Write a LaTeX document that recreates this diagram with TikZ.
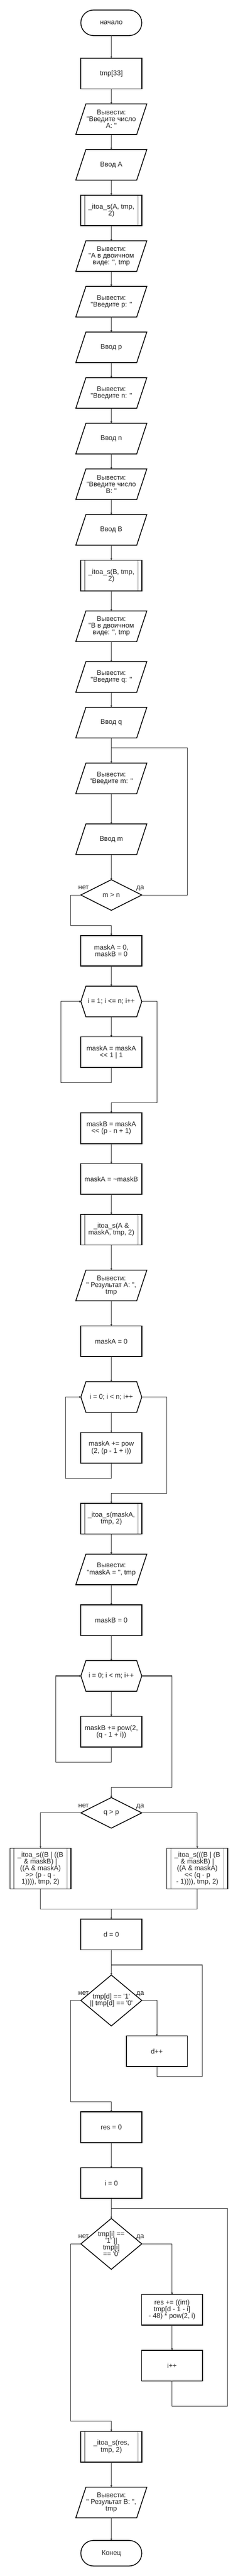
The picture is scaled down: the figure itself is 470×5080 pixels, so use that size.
\documentclass[tikz,border=0pt]{standalone}
\usepackage{fontspec}
\newfontfamily\dfont{Liberation Sans}
\usetikzlibrary{arrows.meta}
\definecolor{lc}{HTML}{333333}
\definecolor{tc}{HTML}{222222}
\definecolor{ic}{HTML}{808080}
\begin{document}
\begin{tikzpicture}[x=1pt,y=-1pt,
  base/.style={rectangle, inner sep=0pt, minimum width=120pt, minimum height=60pt, align=center, font={\dfont\fontsize{13.5}{13.3}\selectfont}, text=tc},
  wide/.style={base, minimum width=140pt},
  tall/.style={base, minimum height=100pt},
  term/.style={base, minimum height=50pt},
  big/.style={base, minimum height=80pt},
  shp/.style={draw=black, line width=1.6pt, line join=miter},
  inl/.style={draw=ic, line width=1.4pt},
  conn/.style={draw=lc, line width=1.1pt},
  arr/.style={conn, -{Triangle[length=3.5pt,width=3.5pt]}},
  lbl/.style={inner sep=0pt, font={\dfont\fontsize{13.5}{13.3}\selectfont}, text=tc}
]
\fill[white] (0,0) rectangle (470,5080);
\useasboundingbox (0,0) rectangle (470,5080);

\node[term] (t1) at (220,45) {начало};
\node[base] (p1) at (220,145) {tmp[33]};
\node[wide] (o1) at (220,235) {Вывести:\\"Введите число\\A: "};
\node[wide] (o2) at (220,325) {Ввод A};
\node[base] (s1) at (220,415) {\_itoa\_s(A, tmp,\\2)};
\node[wide] (o3) at (220,505) {Вывести:\\"A в двоичном\\виде: ", tmp};
\node[wide] (o4) at (220,595) {Вывести:\\"Введите p: "};
\node[wide] (o5) at (220,685) {Ввод p};
\node[wide] (o6) at (220,775) {Вывести:\\"Введите n: "};
\node[wide] (o7) at (220,865) {Ввод n};
\node[wide] (o8) at (220,955) {Вывести:\\"Введите число\\B: "};
\node[wide] (o9) at (220,1045) {Ввод B};
\node[base] (s2) at (220,1135) {\_itoa\_s(B, tmp,\\2)};
\node[wide] (o10) at (220,1235) {Вывести:\\"B в двоичном\\виде: ", tmp};
\node[wide] (o11) at (220,1335) {Вывести:\\"Введите q: "};
\node[wide] (o12) at (220,1425) {Ввод q};
\node[wide] (o13) at (220,1535) {Вывести:\\"Введите m: "};
\node[wide] (o14) at (220,1655) {Ввод m};
\node[base] (d1) at (220,1765) {m > n};
\node[base] (p2) at (220,1875) {maskA = 0,\\maskB = 0};
\node[base] (h1) at (220,1975) {i = 1; i <= n; i++};
\node[base] (p3) at (220,2075) {maskA = maskA\\<< 1 | 1};
\node[base] (p4) at (220,2225) {maskB = maskA\\<< (p - n + 1)};
\node[base] (p5) at (220,2325) {maskA = \textasciitilde maskB};
\node[base] (s3) at (220,2425) {\_itoa\_s(A \&\\maskA, tmp, 2)};
\node[wide] (o15) at (220,2535) {Вывести:\\" Результат A: ",\\tmp};
\node[base] (p6) at (220,2645) {maskA = 0};
\node[base] (h2) at (220,2755) {i = 0; i < n; i++};
\node[base] (p7) at (220,2855) {maskA += pow\\(2, (p - 1 + i))};
\node[base] (s4) at (220,2995) {\_itoa\_s(maskA,\\tmp, 2)};
\node[wide] (o16) at (220,3095) {Вывести:\\"maskA = ", tmp};
\node[base] (p8) at (220,3195) {maskB = 0};
\node[base] (h3) at (220,3305) {i = 0; i < m; i++};
\node[base] (p9) at (220,3415) {maskB += pow(2,\\(q - 1 + i))};
\node[base] (d2) at (220,3575) {q > p};
\node[big] (s5) at (80,3685) {\_itoa\_s((B | ((B\\\& maskB) |\\((A \& maskA)\\>> (p - q -\\1)))), tmp, 2)};
\node[big] (s6) at (390,3685) {\_itoa\_s(((B | (B\\\& maskB) |\\((A \& maskA)\\<< (q - p\\- 1)))), tmp, 2)};
\node[base] (p10) at (220,3815) {d = 0};
\node[tall] (d3) at (220,3945) {tmp[d] == '1'\\|| tmp[d] == '0'};
\node[base] (p11) at (310,4045) {d++};
\node[base] (p12) at (220,4195) {res = 0};
\node[base] (p13) at (220,4305) {i = 0};
\node[tall] (d4) at (220,4425) {tmp[i] ==\\'1' ||\\tmp[i]\\== '0'};
\node[base] (p14) at (340,4555) {res += ((int)\\tmp[d - 1 - i]\\- 48) * pow(2, i)};
\node[base] (p15) at (340,4665) {i++};
\node[base] (s7) at (220,4825) {\_itoa\_s(res,\\tmp, 2)};
\node[wide] (o17) at (220,4935) {Вывести:\\" Результат B: ",\\tmp};
\node[term] (t2) at (220,5035) {Конец};

% outlines
\foreach \nm in {t1,t2}
  \draw[shp, rounded corners=25pt] (\nm.north west) rectangle (\nm.south east);
\foreach \nm in {p1,p2,p3,p4,p5,p6,p7,p8,p9,p10,p11,p12,p13,p14,p15}
  \draw[shp] (\nm.north west) rectangle (\nm.south east);
\foreach \nm in {s1,s2,s3,s4,s5,s6,s7} {
  \draw[inl] ([xshift=7.7pt]\nm.north west) -- ([xshift=7.7pt]\nm.south west);
  \draw[inl] ([xshift=-7.7pt]\nm.north east) -- ([xshift=-7.7pt]\nm.south east);
  \draw[shp] (\nm.north west) rectangle (\nm.south east);
}
\foreach \nm in {o1,o2,o3,o4,o5,o6,o7,o8,o9,o10,o11,o12,o13,o14,o15,o16,o17}
  \draw[shp] ([xshift=20pt]\nm.north west) -- (\nm.north east) -- ([xshift=-20pt]\nm.south east) -- (\nm.south west) -- cycle;
\foreach \nm in {d1,d2,d3,d4}
  \draw[shp] (\nm.north) -- (\nm.east) -- (\nm.south) -- (\nm.west) -- cycle;
\foreach \nm in {h1,h2,h3}
  \draw[shp] ([xshift=10pt]\nm.north west) -- ([xshift=-10pt]\nm.north east) -- (\nm.east) -- ([xshift=-10pt]\nm.south east) -- ([xshift=10pt]\nm.south west) -- (\nm.west) -- cycle;

% branch labels
\node[lbl, anchor=base east] (l1n) at ([xshift=16pt,yshift=10.8pt]d1.west) {нет};
\node[lbl, anchor=base west] (l1y) at ([xshift=-11pt,yshift=10.8pt]d1.east) {да};
\node[lbl, anchor=base east] (l2n) at ([xshift=16pt,yshift=10.8pt]d2.west) {нет};
\node[lbl, anchor=base west] (l2y) at ([xshift=-11pt,yshift=10.8pt]d2.east) {да};
\node[lbl, anchor=base east] (l3n) at ([xshift=16pt,yshift=10.8pt]d3.west) {нет};
\node[lbl, anchor=base west] (l3y) at ([xshift=-11pt,yshift=10.8pt]d3.east) {да};
\node[lbl, anchor=base east] (l4n) at ([xshift=16pt,yshift=10.8pt]d4.west) {нет};
\node[lbl, anchor=base west] (l4y) at ([xshift=-11pt,yshift=10.8pt]d4.east) {да};

% straight connectors
\foreach \a/\b in {t1/p1,p1/o1,o1/o2,o2/s1,s1/o3,o3/o4,o4/o5,o5/o6,o6/o7,o7/o8,o8/o9,o9/s2,s2/o10,o10/o11,o11/o12,o12/o13,o13/o14,o14/d1,
  p2/h1,h1/p3,p4/p5,p5/s3,s3/o15,o15/p6,p6/h2,h2/p7,s4/o16,o16/p8,p8/h3,h3/p9,p10/d3,p12/p13,p13/d4,p14/p15,s7/o17,o17/t2}
  \draw[arr] (\a.south) -- (\b.north);

% junction coordinates
\coordinate (c1r) at (370,1475);
\coordinate (c1j) at (220,1475);
\coordinate (c2) at (140,1825);
\coordinate (c3) at (120,2135);
\coordinate (c4) at (310,2175);
\coordinate (c5) at (130,2915);
\coordinate (c6) at (330,2945);
\coordinate (c7) at (110,3475);
\coordinate (c8) at (340,3525);
\coordinate (c9) at (220,3765);
\coordinate (c10) at (220,3875);
\coordinate (c11) at (400,4095);
\coordinate (c12) at (140,4145);
\coordinate (c13) at (220,4355);
\coordinate (c14) at (450,4745);
\coordinate (c15) at (140,4775);

% m > n
\draw[conn] (d1.east) -| (c1r) -- (c1j);
\draw[arr] (d1.west) -| (c2) -| (p2.north);
% loop 1
\draw[arr] (p3.south) |- (c3) |- (h1.west);
\draw[arr] (h1.east) -| (c4) -| (p4.north);
% loop 2
\draw[arr] (p7.south) |- (c5) |- (h2.west);
\draw[arr] (h2.east) -| (c6) -| (s4.north);
% loop 3
\draw[arr] (p9.south) |- (c7) |- (h3.west);
\draw[arr] (h3.east) -| (c8) -| (d2.north);
% q > p
\draw[arr] (d2.west) -| (s5.north);
\draw[arr] (d2.east) -| (s6.north);
\draw[conn] (s5.south) |- (c9);
\draw[conn] (s6.south) |- (c9);
\draw[arr] (c9) -- (p10.north);
% d loop
\draw[arr] (d3.east) -| (p11.north);
\draw[conn] (p11.south) |- (c11) |- (c10);
\draw[arr] (d3.west) -| (c12) -| (p12.north);
% i loop
\draw[arr] (d4.east) -| (p14.north);
\draw[conn] (p15.south) |- (c14) |- (c13);
\draw[arr] (d4.west) -| (c15) -| (s7.north);
\end{tikzpicture}
\end{document}
